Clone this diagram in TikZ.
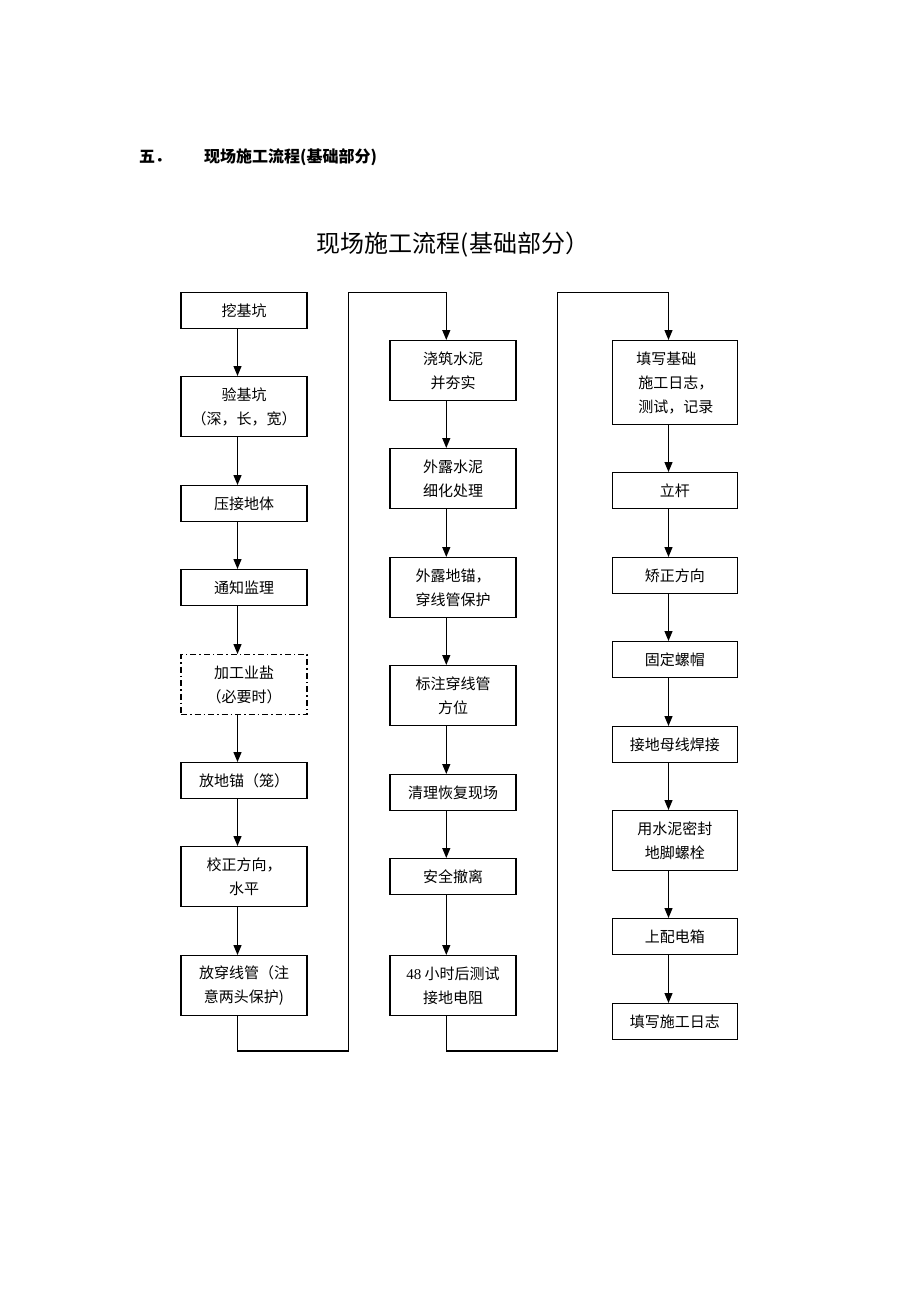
\documentclass[tikz,border=0pt]{standalone}
\usepackage{fontspec}
\setmainfont{Liberation Serif}
\newfontfamily\cjk{Noto Sans CJK SC}
\usetikzlibrary{arrows.meta}
\begin{document}
\begin{tikzpicture}[x=1pt,y=-1pt,
  box/.style={draw,line width=1.2pt,minimum width=126pt,anchor=north,inner sep=2pt,align=center,
    font=\cjk\fontsize{15}{24}\selectfont},
  hA/.style={minimum height=36pt},
  hB/.style={minimum height=60pt},
  hC/.style={minimum height=84pt},
  dashdot box/.style={dash pattern=on 6pt off 3pt on 1.5pt off 3pt},
  arr/.style={line width=1.2pt,line join=miter,-{Triangle[length=10pt,width=8pt]}},
  ln/.style={line width=1.2pt,line join=miter}]
\useasboundingbox (0,0) rectangle (920,1302);
% headings
\node[anchor=west,inner sep=0pt,font=\cjk\bfseries\fontsize{16}{16}\selectfont] (h1) at (139,157) {五．};
\node[anchor=west,inner sep=0pt,font=\cjk\bfseries\fontsize{16}{16}\selectfont] (h2) at (204,157) {现场施工流程(基础部分)};
\node[inner sep=0pt,font=\cjk\fontsize{24}{24}\selectfont] (title) at (453,245) {现场施工流程(基础部分）};
% helper coordinates
\coordinate (c1) at (237.5,0);
\coordinate (c2) at (446.3,0);
\coordinate (c3) at (668.5,0);
\coordinate (r1) at (348.3,0);
\coordinate (r2) at (557.3,0);
\coordinate (top) at (0,292.3);
\coordinate (bot) at (0,1051);
% column 1
\node[box,hA] (a1) at (244,292) {挖基坑};
\node[box,hB] (a2) at (244,376) {验基坑\\（深，长，宽）};
\node[box,hA] (a3) at (244,485) {压接地体};
\node[box,hA] (a4) at (244,569) {通知监理};
\node[box,hB,dashdot box] (a5) at (244,654) {加工业盐\\（必要时）};
\node[box,hA] (a6) at (244,762) {放地锚（笼）};
\node[box,hB] (a7) at (244,846) {校正方向，\\水平};
\node[box,hB] (a8) at (244,955) {放穿线管（注\\意两头保护)};
% column 2
\node[box,hB] (b1) at (453,340) {浇筑水泥\\并夯实};
\node[box,hB] (b2) at (453,448) {外露水泥\\细化处理};
\node[box,hB] (b3) at (453,557) {外露地锚，\\穿线管保护};
\node[box,hB] (b4) at (453,665) {标注穿线管\\方位};
\node[box,hA] (b5) at (453,774) {清理恢复现场};
\node[box,hA] (b6) at (453,858) {安全撤离};
\node[box,hB] (b7) at (453,955) {{\rmfamily 48} 小时后测试\\接地电阻};
% column 3
\node[box,hC,align=left,minimum width=125pt] (d1) at (674.8,340) {填写基础\\\hspace{2pt}施工日志，\\\hspace{2pt}测试，记录};
\node[box,hA,minimum width=125pt] (d2) at (674.8,472) {立杆};
\node[box,hA,minimum width=125pt] (d3) at (674.8,557) {矫正方向};
\node[box,hA,minimum width=125pt] (d4) at (674.8,641) {固定螺帽};
\node[box,hA,minimum width=125pt] (d5) at (674.8,726) {接地母线焊接};
\node[box,hB,minimum width=125pt] (d6) at (674.8,810) {用水泥密封\\地脚螺栓};
\node[box,hA,minimum width=125pt] (d7) at (674.8,918) {上配电箱};
\node[box,hA,minimum width=125pt] (d8) at (674.8,1003) {填写施工日志};
% arrows column 1
\foreach \p/\q in {a1/a2,a2/a3,a3/a4,a4/a5,a5/a6,a6/a7,a7/a8}
  \draw[arr] (\p.south -| c1) -- (\q.north -| c1);
% arrows column 2
\foreach \p/\q in {b1/b2,b2/b3,b3/b4,b4/b5,b5/b6,b6/b7}
  \draw[arr] (\p.south -| c2) -- (\q.north -| c2);
% arrows column 3
\foreach \p/\q in {d1/d2,d2/d3,d3/d4,d4/d5,d5/d6,d6/d7,d7/d8}
  \draw[arr] (\p.south -| c3) -- (\q.north -| c3);
% loops
\draw[arr] (a8.south -| c1) -- (c1 |- bot) -- (r1 |- bot) -- (r1 |- top) -- (c2 |- top) -- (b1.north -| c2);
\draw[arr] (b7.south -| c2) -- (c2 |- bot) -- (r2 |- bot) -- (r2 |- top) -- (c3 |- top) -- (d1.north -| c3);
\end{tikzpicture}
\end{document}
